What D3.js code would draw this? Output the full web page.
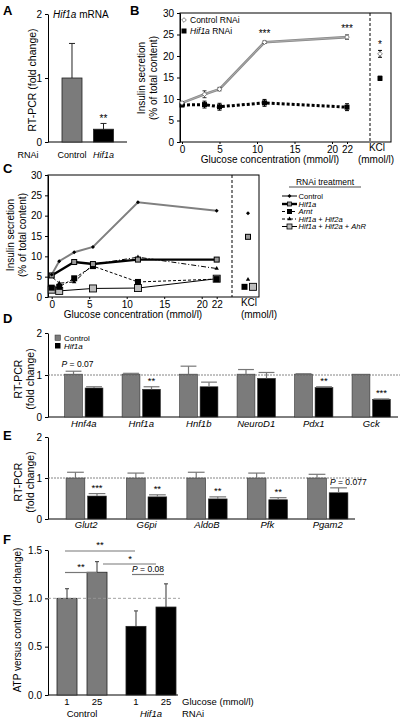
<!DOCTYPE html>
<html><head><meta charset="utf-8">
<script src="https://cdn.jsdelivr.net/npm/d3@7"></script>
<style>
body{margin:0;background:#fff}
svg{font-family:"Liberation Sans",Arial,sans-serif}
</style></head><body>
<svg id="c" width="400" height="724"></svg>
<script>
// ---------------- DATA ----------------
// Panel A
const aCategories = ["Control", "Hif1a"];
const aValues = [1.0, 0.2];
const aErrTop = [1.54, 0.29];
const aTicks = [0, 1, 2];
// Panel B
const bGlucose = [0, 3, 5, 11, 22];
const bControl = [9.1, 11.1, 12.3, 23.2, 24.4];
const bControlErr = [0.3, 0.8, 0.4, 0.3, 0.5];
const bHif1a = [8.6, 8.7, 8.2, 9.1, 8.1];
const bHif1aErr = [0.3, 0.8, 0.8, 0.8, 0.8];
const bKCl = [20.5, 14.8];
const bKClErr = [0.8, 0.5];
const bXTicks = [0, 5, 10, 15, 20, 22];
const bYTicks = [0, 5, 10, 15, 20, 25, 30];
// Panel C
const cControlX = [0, 1, 3, 5.5, 11.5, 22];
const cControl = [5.5, 8.8, 11.0, 12.3, 23.3, 21.2];
const cHif1aX = [0, 3, 5.5, 11.5, 22];
const cHif1a = [5.3, 8.6, 8.1, 9.2, 9.2];
const cArntX = [0, 1, 3, 5.5, 11.5, 22];
const cArnt = [2.3, 2.5, 4.6, 7.6, 3.7, 4.4];
const cHif2aX = [0, 1, 3, 5.5, 11.5, 22];
const cHif2a = [5.0, 3.4, 3.7, 8.0, 9.8, 7.0];
const cAhRX = [0, 1, 5.5, 11.5, 22];
const cAhR = [1.8, 1.5, 2.1, 2.2, 4.5];
const cKCl = [20.6, 14.8, 2.5, 4.3, 2.5]; // Control, Hif1a, Arnt, Hif1a+Hif2a, +AhR
// Panel D
const dGenes = ["Hnf4a", "Hnf1a", "Hnf1b", "NeuroD1", "Pdx1", "Gck"];
const dControl = [1.02, 1.02, 1.02, 1.02, 1.02, 1.02];
const dControlErr = [1.09, 1.04, 1.21, 1.13, 1.03, 1.02];
const dHif1a = [0.69, 0.66, 0.72, 0.92, 0.70, 0.42];
const dHif1aErr = [0.72, 0.72, 0.83, 1.06, 0.72, 0.43];
const dSig = ["", "**", "", "", "**", "***"];
// Panel E
const eGenes = ["Glut2", "G6pi", "AldoB", "Pfk", "Pgam2"];
const eControl = [1.0, 1.0, 1.0, 1.0, 1.0];
const eControlErr = [1.14, 1.12, 1.14, 1.12, 1.09];
const eHif1a = [0.56, 0.54, 0.49, 0.47, 0.64];
const eHif1aErr = [0.62, 0.59, 0.54, 0.52, 0.76];
const eSig = ["***", "**", "**", "**", ""];
// Panel F
const fGroups = ["Control", "Hif1a"];
const fGlucose = ["1", "25"];
const fValues = [[1.0, 1.27], [0.71, 0.91]];
const fErrTop = [[1.10, 1.38], [0.87, 1.15]];
const fTicks = [0, 0.5, 1.0, 1.5];

// ---------------- HELPERS ----------------
const svg = d3.select("#c");
const GRAY = "#7b7b7b";

function rich(g, x, y, parts, o = {}) {
  const t = g.append("text").attr("x", x).attr("y", y)
    .attr("font-size", o.size || 10).attr("text-anchor", o.anchor || "start")
    .attr("fill", o.fill || "#000");
  if (o.rotate) t.attr("transform", `rotate(-90,${x},${y})`);
  if (o.weight) t.attr("font-weight", o.weight);
  if (typeof parts === "string") parts = [[parts, false]];
  parts.forEach(([s, it]) => t.append("tspan").text(s).attr("font-style", it ? "italic" : "normal"));
  return t;
}
function yAxis(g, x, scale, ticks, fmt) {
  const ax = g.append("g").attr("transform", `translate(${x},0)`)
    .call(d3.axisLeft(scale).tickValues(ticks).tickSize(3).tickSizeOuter(0).tickFormat(fmt || d3.format("d")));
  ax.selectAll("text").attr("font-size", 10).attr("font-family", "Liberation Sans, Arial, sans-serif").attr("fill", "#000");
  ax.selectAll("line,path").attr("stroke", "#000");
  return ax;
}
function hline(g, x1, x2, y, o = {}) {
  return g.append("line").attr("x1", x1).attr("x2", x2).attr("y1", y).attr("y2", y)
    .attr("stroke", o.stroke || "#000").attr("stroke-width", o.w || 1)
    .attr("stroke-dasharray", o.dash || null);
}
function vline(g, x, y1, y2, o = {}) {
  return g.append("line").attr("x1", x).attr("x2", x).attr("y1", y1).attr("y2", y2)
    .attr("stroke", o.stroke || "#000").attr("stroke-width", o.w || 1)
    .attr("stroke-dasharray", o.dash || null);
}
function errBar(g, x, y1, y2, cap, o = {}) {
  vline(g, x, y1, y2, o);
  hline(g, x - cap / 2, x + cap / 2, y2, o);
}
function errBoth(g, x, yc, lo, hi, cap, o = {}) {
  vline(g, x, lo, hi, o);
  hline(g, x - cap / 2, x + cap / 2, lo, o);
  hline(g, x - cap / 2, x + cap / 2, hi, o);
}
function label(txt, x, y) { rich(svg, x, y, txt, { size: 13, weight: "bold" }); }

// ---------------- PANEL A ----------------
{
  const g = svg.append("g");
  const y = d3.scaleLinear([0, 2], [142, 14]);
  const x = d3.scaleBand(aCategories, [50.5, 125]).paddingInner(0.365).paddingOuter(0.365);
  yAxis(g, 48, y, aTicks);
  hline(g, 48, 127, y(0));
  aCategories.forEach((c, i) => {
    const cx = x(c) + x.bandwidth() / 2;
    errBar(g, cx, y(aValues[i]), y(aErrTop[i]), 6, { stroke: "#222" });
    g.append("rect").attr("x", x(c)).attr("y", y(aValues[i])).attr("width", x.bandwidth())
      .attr("height", y(0) - y(aValues[i])).attr("fill", i ? "#000" : GRAY).attr("stroke", "#222").attr("stroke-width", 0.8);
  });
  rich(g, x("Hif1a") + x.bandwidth() / 2, 122, "**", { anchor: "middle", size: 10 });
  rich(g, 53, 18, [["Hif1a", true], [" mRNA", false]], { size: 10 });
  rich(g, 36, 80, "RT-PCR (fold change)", { anchor: "middle", rotate: true, size: 10.5 });
  rich(g, 28, 158, "RNAi", { anchor: "middle", size: 9 });
  rich(g, x("Control") + x.bandwidth() / 2, 158, "Control", { anchor: "middle", size: 9 });
  rich(g, x("Hif1a") + x.bandwidth() / 2, 158, [["Hif1a", true]], { anchor: "middle", size: 9 });
  label("A", 3, 15);
}

// ---------------- PANEL B ----------------
{
  const g = svg.append("g");
  const x = d3.scaleLinear([0, 22], [182, 347]);
  const y = d3.scaleLinear([0, 30], [142, 13]);
  const L = 180, R = 391, KX = 380;
  g.append("rect").attr("x", L).attr("y", 13).attr("width", R - L).attr("height", 129)
    .attr("fill", "none").attr("stroke", "#000");
  yAxis(g, L, y, bYTicks);
  vline(g, 370, 13, 142, { dash: "3,2" });
  const xa = g.append("g").attr("transform", "translate(0,142)")
    .call(d3.axisBottom(x).tickValues(bXTicks).tickSize(2).tickSizeOuter(0));
  xa.select(".domain").remove();
  xa.selectAll("text").attr("font-size", 10).attr("font-family", "Liberation Sans, Arial, sans-serif").attr("fill", "#000").attr("dy", "0.6em");
  rich(g, 377, 151, "KCl", { anchor: "middle", size: 10 });
  rich(g, 270, 163, "Glucose concentration (mmol/l)", { anchor: "middle", size: 10 });
  rich(g, 376, 163, "(mmol/l)", { anchor: "middle", size: 10 });
  rich(g, 145, 78, "Insulin secretion", { anchor: "middle", rotate: true, size: 10 });
  rich(g, 157, 78, "(% of total content)", { anchor: "middle", rotate: true, size: 10 });
  // Hif1a line
  const line = d3.line().x((d, i) => x(bGlucose[i])).y(d => y(d));
  g.append("path").attr("d", line(bHif1a)).attr("fill", "none").attr("stroke", "#000")
    .attr("stroke-width", 3).attr("stroke-dasharray", "3,2");
  g.append("path").attr("d", line(bControl)).attr("fill", "none").attr("stroke", "#8a8a8a").attr("stroke-width", 2.6);
  g.append("path").attr("d", line(bControl)).attr("fill", "none").attr("stroke", "#b4b4b4").attr("stroke-width", 0.8);
  bGlucose.forEach((gx, i) => {
    errBoth(g, x(gx), 0, y(bHif1a[i] - bHif1aErr[i]), y(bHif1a[i] + bHif1aErr[i]), 4);
    errBoth(g, x(gx), 0, y(bControl[i] - bControlErr[i]), y(bControl[i] + bControlErr[i]), 4, { stroke: "#333" });
    g.append("rect").attr("x", x(gx) - 2.5).attr("y", y(bHif1a[i]) - 2.5).attr("width", 5).attr("height", 5).attr("fill", "#000");
    g.append("path").attr("d", d3.symbol(d3.symbolDiamond2, 14)()).attr("transform", `translate(${x(gx)},${y(bControl[i])})`)
      .attr("fill", "#fff").attr("stroke", "#666").attr("stroke-width", 0.8);
  });
  // KCl
  errBoth(g, KX, 0, y(bKCl[0] - bKClErr[0]), y(bKCl[0] + bKClErr[0]), 4);
  g.append("path").attr("d", d3.symbol(d3.symbolDiamond2, 14)()).attr("transform", `translate(${KX},${y(bKCl[0])})`)
    .attr("fill", "#fff").attr("stroke", "#666").attr("stroke-width", 0.8);
  errBoth(g, KX, 0, y(bKCl[1] - bKClErr[1]), y(bKCl[1] + bKClErr[1]), 4);
  g.append("rect").attr("x", KX - 2.5).attr("y", y(bKCl[1]) - 2.5).attr("width", 5).attr("height", 5).attr("fill", "#000");
  rich(g, x(11), 37, "***", { anchor: "middle", size: 10 });
  rich(g, x(22), 32, "***", { anchor: "middle", size: 10 });
  rich(g, KX, 48, "*", { anchor: "middle", size: 10 });
  // legend
  g.append("path").attr("d", d3.symbol(d3.symbolDiamond2, 14)()).attr("transform", "translate(184,20)")
    .attr("fill", "#fff").attr("stroke", "#666").attr("stroke-width", 0.8);
  rich(g, 190, 23, "Control RNAi", { size: 8.5 });
  g.append("rect").attr("x", 181.5).attr("y", 28.5).attr("width", 5).attr("height", 5).attr("fill", "#000");
  rich(g, 190, 34, [["Hif1a", true], [" RNAi", false]], { size: 8.5 });
  label("B", 130, 15);
}

// ---------------- PANEL C ----------------
{
  const g = svg.append("g");
  const x = d3.scaleLinear([0, 22], [51.7, 216.7]);
  const y = d3.scaleLinear([0, 30], [297, 175]);
  const L = 48, R = 259;
  g.append("rect").attr("x", L).attr("y", 175).attr("width", R - L).attr("height", 122)
    .attr("fill", "none").attr("stroke", "#000");
  yAxis(g, L, y, bYTicks);
  vline(g, 232, 175, 297, { dash: "3,2" });
  const xa = g.append("g").attr("transform", "translate(0,297)")
    .call(d3.axisBottom(x).tickValues(bXTicks).tickSize(2).tickSizeOuter(0));
  xa.select(".domain").remove();
  xa.selectAll("text").attr("font-size", 10).attr("font-family", "Liberation Sans, Arial, sans-serif").attr("fill", "#000").attr("dy", "0.6em");
  rich(g, 249, 306, "KCl", { anchor: "middle", size: 10 });
  rich(g, 133, 318, "Glucose concentration (mmol/l)", { anchor: "middle", size: 10 });
  rich(g, 259, 318, "(mmol/l)", { anchor: "middle", size: 10 });
  rich(g, 14, 235, "Insulin secretion", { anchor: "middle", rotate: true, size: 10 });
  rich(g, 26, 235, "(% of total content)", { anchor: "middle", rotate: true, size: 10 });
  const mk = (xs) => d3.line().x((d, i) => x(xs[i])).y(d => y(d));
  // AhR
  g.append("path").attr("d", mk(cAhRX)(cAhR)).attr("fill", "none").attr("stroke", "#000").attr("stroke-width", 1);
  // Arnt
  g.append("path").attr("d", mk(cArntX)(cArnt)).attr("fill", "none").attr("stroke", "#000").attr("stroke-width", 1).attr("stroke-dasharray", "3,2");
  // Hif1a + Hif2a
  g.append("path").attr("d", mk(cHif2aX)(cHif2a)).attr("fill", "none").attr("stroke", "#000").attr("stroke-width", 1).attr("stroke-dasharray", "5,2,1,2");
  // Hif1a
  g.append("path").attr("d", mk(cHif1aX)(cHif1a)).attr("fill", "none").attr("stroke", "#000").attr("stroke-width", 2.4);
  // Control
  g.append("path").attr("d", mk(cControlX)(cControl)).attr("fill", "none").attr("stroke", "#808080").attr("stroke-width", 2);
  // markers
  const sq = (cx, cy, s, fill, sw) => g.append("rect").attr("x", cx - s / 2).attr("y", cy - s / 2).attr("width", s).attr("height", s)
    .attr("fill", fill).attr("stroke", "#000").attr("stroke-width", sw);
  const tri = (cx, cy) => g.append("path").attr("d", d3.symbol(d3.symbolTriangle2, 14)()).attr("transform", `translate(${cx},${cy})`).attr("fill", "#000");
  const dia = (cx, cy) => g.append("path").attr("d", d3.symbol(d3.symbolDiamond2, 10)()).attr("transform", `translate(${cx},${cy})`).attr("fill", "#000");
  cAhRX.forEach((v, i) => sq(x(v), y(cAhR[i]), 7, "#bdbdbd", 0.9));
  cArntX.forEach((v, i) => sq(x(v), y(cArnt[i]), 6, "#000", 0));
  cHif2aX.forEach((v, i) => tri(x(v), y(cHif2a[i])));
  cHif1aX.forEach((v, i) => sq(x(v), y(cHif1a[i]), 5, "#9a9a9a", 1));
  cControlX.forEach((v, i) => dia(x(v), y(cControl[i])));
  // KCl
  dia(248, y(cKCl[0]));
  sq(248, y(cKCl[1]), 5, "#9a9a9a", 1);
  sq(244.5, y(cKCl[2]), 6, "#000", 0);
  tri(248, y(cKCl[3]));
  sq(253, y(cKCl[4]), 7, "#bdbdbd", 0.9);
  // legend
  rich(g, 325, 185, "RNAi treatment", { anchor: "middle", size: 8.5 });
  hline(g, 289, 361, 187, { w: 0.7 });
  const items = [
    { t: [["Control", false]], y: 196 },
    { t: [["Hif1a", true]], y: 204 },
    { t: [["Arnt", true]], y: 211.5 },
    { t: [["Hif1a", true], [" + ", false], ["Hif2a", true]], y: 219 },
    { t: [["Hif1a", true], [" + ", false], ["Hif2a", true], [" + ", false], ["AhR", true]], y: 226.5 }
  ];
  const lx1 = 282, lx2 = 297, lm = 289.5;
  hline(g, lx1, lx2, items[0].y, { stroke: "#808080", w: 2 }); dia(lm, items[0].y);
  hline(g, lx1, lx2, items[1].y, { w: 2.4 }); sq(lm, items[1].y, 4, "#9a9a9a", 0.8);
  hline(g, lx1, lx2, items[2].y, { dash: "3,2" }); sq(lm, items[2].y, 5, "#000", 0);
  hline(g, lx1, lx2, items[3].y, { dash: "3,2,1,2" }); tri(lm, items[3].y);
  hline(g, lx1, lx2, items[4].y); sq(lm, items[4].y, 5, "#bdbdbd", 0.8);
  items.forEach(it => rich(g, 298.5, it.y + 2.8, it.t, { size: 7.6 }));
  label("C", 3, 173);
}

// ---------------- GROUPED BAR PANELS (D, E) ----------------
function grouped(genes, ctrl, ctrlErr, hif, hifErr, sig, y0, y2, range, axisEnd, dotEnd, lblY) {
  const g = svg.append("g");
  const y = d3.scaleLinear([0, 2], [y0, y2]);
  const x = d3.scaleBand(genes, range).paddingInner(0.333).paddingOuter(0.167);
  const xi = d3.scaleBand(["Control", "Hif1a"], [0, x.bandwidth()]).paddingInner(0.13);
  yAxis(g, 48, y, [0, 1, 2]);
  hline(g, 48, axisEnd, y(0));
  genes.forEach((gn, i) => {
    [[ctrl, ctrlErr, "Control", GRAY], [hif, hifErr, "Hif1a", "#000"]].forEach(([v, e, k, col]) => {
      const bx = x(gn) + xi(k);
      g.append("rect").attr("x", bx).attr("y", y(v[i])).attr("width", xi.bandwidth())
        .attr("height", y(0) - y(v[i])).attr("fill", col).attr("stroke", "#333").attr("stroke-width", 0.6);
      if (e[i] > v[i]) errBar(g, bx + xi.bandwidth() / 2, y(v[i]), y(e[i]), xi.bandwidth() - 2, { stroke: "#777", w: 1.2 });
    });
    if (sig[i]) rich(g, x(gn) + xi("Hif1a") + xi.bandwidth() / 2, y(hifErr[i]) - 3, sig[i], { anchor: "middle", size: 9.5 });
    rich(g, x(gn) + x.bandwidth() / 2, lblY, [[gn, true]], { anchor: "middle", size: 9.5 });
  });
  hline(g, 48, dotEnd, y(1), { stroke: "#666", dash: "2,1", w: 0.8 });
  rich(g, 22, (y0 + y2) / 2 + 4, "RT-PCR", { anchor: "middle", rotate: true, size: 10.5 });
  rich(g, 34, (y0 + y2) / 2 + 4, "(fold change)", { anchor: "middle", rotate: true, size: 10.5 });
  return { g, x, xi, y };
}
{
  const d = grouped(dGenes, dControl, dControlErr, dHif1a, dHif1aErr, dSig, 417, 333, [55, 400], 398, 400, 427);
  rich(d.g, d.x("Hnf4a") + d.xi("Control") + d.xi.bandwidth() / 2 + 4, 367, [["P", true], [" = 0.07", false]], { anchor: "middle", size: 8.5 });
  d.g.append("rect").attr("x", 55).attr("y", 335).attr("width", 5.5).attr("height", 5.5).attr("fill", GRAY).attr("stroke", "#333").attr("stroke-width", 0.5);
  rich(d.g, 64, 341, "Control", { size: 8 });
  d.g.append("rect").attr("x", 55).attr("y", 343).attr("width", 5.5).attr("height", 5.5).attr("fill", "#000");
  rich(d.g, 64, 349, [["Hif1a", true]], { size: 8 });
  label("D", 3, 323);
}
{
  const e = grouped(eGenes, eControl, eControlErr, eHif1a, eHif1aErr, eSig, 519, 437, [56, 358], 355, 363, 528);
  rich(e.g, 330, 485, [["P", true], [" = 0.077", false]], { size: 8.5 });
  label("E", 3, 440);
}

// ---------------- PANEL F ----------------
{
  const g = svg.append("g");
  const y = d3.scaleLinear([0, 1.5], [695, 550]);
  const xo = d3.scaleBand(fGroups, [57, 176]).paddingInner(0.275).paddingOuter(0);
  const xi = d3.scaleBand(fGlucose, [0, xo.bandwidth()]).paddingInner(0.333).paddingOuter(0);
  yAxis(g, 48, y, fTicks, d3.format(".1f"));
  hline(g, 48, 178, y(0));
  fGroups.forEach((gr, gi) => {
    fGlucose.forEach((gl, j) => {
      const bx = xo(gr) + xi(gl);
      const cx = bx + xi.bandwidth() / 2;
      errBar(g, cx, y(fValues[gi][j]), y(fErrTop[gi][j]), 4, { stroke: "#555", w: 1.2 });
      g.append("rect").attr("x", bx).attr("y", y(fValues[gi][j])).attr("width", xi.bandwidth())
        .attr("height", y(0) - y(fValues[gi][j])).attr("fill", gi ? "#000" : GRAY).attr("stroke", "#222").attr("stroke-width", 0.8);
      rich(g, cx, 705, gl, { anchor: "middle", size: 9.5 });
    });
    rich(g, xo(gr) + xo.bandwidth() / 2, 717, [[gr, gi === 1]], { anchor: "middle", size: 9.5 });
  });
  hline(g, 48, 180, y(1), { stroke: "#999", dash: "3,2", w: 0.9 });
  rich(g, 182, 705, "Glucose (mmol/l)", { size: 9.5 });
  rich(g, 182, 717, "RNAi", { size: 9.5 });
  hline(g, 65, 135, 551, { stroke: "#777", w: 1.2 });
  rich(g, 100, 548, "**", { anchor: "middle", size: 9.5 });
  hline(g, 65, 97, 572.5, { stroke: "#777", w: 1.2 });
  rich(g, 81, 570, "**", { anchor: "middle", size: 9.5 });
  hline(g, 103, 156, 564, { stroke: "#777", w: 1.2 });
  rich(g, 130, 562, "*", { anchor: "middle", size: 9.5 });
  hline(g, 132, 164, 574.5, { stroke: "#777", w: 1.2 });
  rich(g, 148, 572, [["P", true], [" = 0.08", false]], { anchor: "middle", size: 8.5 });
  rich(g, 21, 620, "ATP versus control (fold change)", { anchor: "middle", rotate: true, size: 10 });
  label("F", 3, 544);
}
</script>
</body></html>
